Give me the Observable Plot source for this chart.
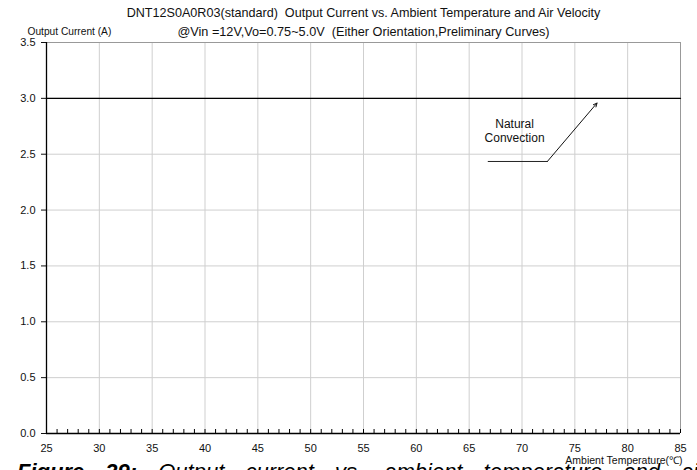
<!DOCTYPE html>
<html>
<head>
<meta charset="utf-8">
<script src="https://cdn.jsdelivr.net/npm/d3@7"></script>
<script src="https://cdn.jsdelivr.net/npm/@observablehq/plot@0.6"></script>
<style>
  body { margin: 0; background: #fff; overflow: hidden; }
  svg { font-family: "Liberation Sans", Arial, sans-serif; }
</style>
</head>
<body>
<div id="chart"></div>
<script>
const titleLines = [
  "DNT12S0A0R03(standard)  Output Current vs. Ambient Temperature and Air Velocity",
  "@Vin =12V,Vo=0.75~5.0V  (Either Orientation,Preliminary Curves)"
];
const yLabel = "Output Current (A)";
const xLabel = "Ambient Temperature(℃)";
const xMajorTicks = [25, 30, 35, 40, 45, 50, 55, 60, 65, 70, 75, 80, 85];
const xMinorTicks = d3.range(25, 86, 1);
const yTicks = [0, 0.5, 1.0, 1.5, 2.0, 2.5, 3.0, 3.5];
// Natural convection derating curve (flat at 3.0 A)
const curveTemp = [25, 85];
const curveCurrent = [3.0, 3.0];
// annotation
const annText = ["Natural", "Convection"];
const annTextX = [69.3, 69.3];
const annTextY = [2.77, 2.64];
const leaderX = [66.8, 72.4];
const leaderY = [2.435, 2.435];
const arrowFrom = {x: 72.4, y: 2.435};
const arrowTo = {x: 77.1, y: 2.958};
const captionBold = "Figure 29:";
const captionRest = "Output current vs. ambient temperature and air velocity";

const curve = curveTemp.map((t, i) => ({t, a: curveCurrent[i]}));
const leader = leaderX.map((x, i) => ({x, y: leaderY[i]}));
const ann = annText.map((s, i) => ({s, x: annTextX[i], y: annTextY[i]}));

const chart = Plot.plot({
  width: 697,
  height: 470,
  marginLeft: 46,
  marginRight: 17,
  marginTop: 42,
  marginBottom: 37,
  style: {fontFamily: "Liberation Sans, Arial, sans-serif", fontSize: "11px", color: "#111"},
  x: {domain: [25, 85]},
  y: {domain: [0, 3.5]},
  marks: [
    // grid
    Plot.ruleX(xMajorTicks.filter(d => d > 25), {stroke: "#cfcfcf", strokeWidth: 1}),
    Plot.ruleY(yTicks.filter(d => d > 0), {stroke: "#cfcfcf", strokeWidth: 1}),
    Plot.ruleY([3.5], {stroke: "#999"}),
    Plot.ruleX([85], {stroke: "#999"}),
    // data
    Plot.line(curve, {x: "t", y: "a", stroke: "#000", strokeWidth: 1.3}),
    // annotation
    Plot.line(leader, {x: "x", y: "y", stroke: "#222", strokeWidth: 1}),
    Plot.arrow([arrowFrom], {x1: "x", y1: "y", x2: () => arrowTo.x, y2: () => arrowTo.y, stroke: "#111", strokeWidth: 1, headLength: 6, headAngle: 50}),
    Plot.text(ann, {x: "x", y: "y", text: "s", fontSize: 12, fill: "#111"}),
    // axes
    Plot.axisX({ticks: xMinorTicks, tickSize: -4, tickFormat: () => "", stroke: "#000"}),
    Plot.axisX({ticks: xMajorTicks, tickSize: 0, tickPadding: 11, tickFormat: d => String(d), fontSize: 11, fill: "#111", label: null}),
    Plot.axisY({ticks: yTicks, tickSize: 5, tickPadding: 6, tickFormat: d3.format(".1f"), fontSize: 11, fill: "#111", label: null}),
    Plot.ruleX([25], {stroke: "#000", strokeWidth: 1.3}),
    Plot.ruleY([0], {stroke: "#000", strokeWidth: 1.3}),
    // titles
    Plot.text([titleLines[0]], {frameAnchor: "top", dy: -34, fontSize: 12.6, fill: "#111"}),
    Plot.text([titleLines[1]], {frameAnchor: "top", dy: -16, fontSize: 12.7, fill: "#111"}),
    Plot.text([yLabel], {frameAnchor: "top-left", dx: -19, dy: -15, textAnchor: "start", fontSize: 10.2, fill: "#111"}),
    Plot.text([xLabel], {frameAnchor: "bottom-right", dx: 2, dy: 30, textAnchor: "end", fontSize: 10.5, fill: "#111"})
  ]
});

const svg = d3.select(chart);
const cap = svg.append("text")
  .attr("x", 17)
  .attr("y", 479)
  .attr("text-anchor", "start")
  .attr("font-size", 22)
  .attr("font-style", "italic")
  .attr("fill", "#000")
  .style("word-spacing", "15px");
cap.append("tspan").attr("font-weight", "bold").text(captionBold + " ");
cap.append("tspan").text(captionRest);

document.getElementById("chart").appendChild(chart);
</script>
</body>
</html>
